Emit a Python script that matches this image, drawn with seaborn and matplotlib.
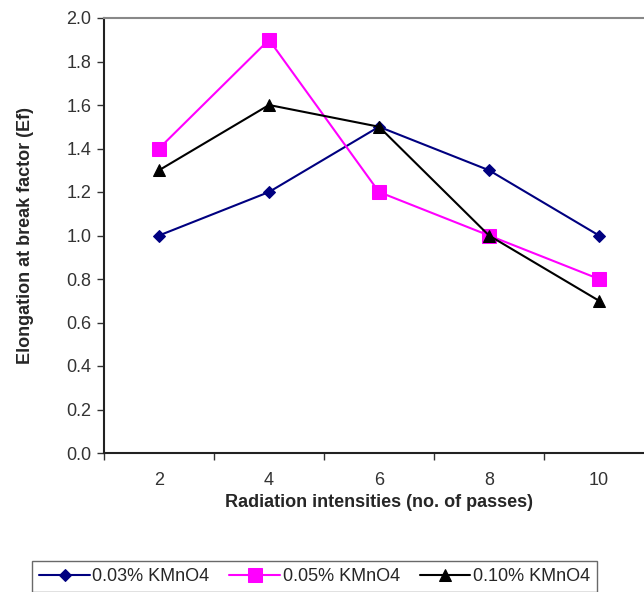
import matplotlib
matplotlib.use("Agg")
import matplotlib.pyplot as plt
import seaborn as sns
import pandas as pd

# data
passes = ["2", "4", "6", "8", "10"]
kmno4_003 = [1.0, 1.2, 1.5, 1.3, 1.0]
kmno4_005 = [1.4, 1.9, 1.2, 1.0, 0.8]
kmno4_010 = [1.3, 1.6, 1.5, 1.0, 0.7]
series_names = ["0.03% KMnO4", "0.05% KMnO4", "0.10% KMnO4"]

sns.set_style("white")
plt.rcParams['font.family'] = ['Liberation Sans', 'DejaVu Sans']

df = pd.DataFrame({
    "pos": list(range(len(passes))) * 3,
    "ef": kmno4_003 + kmno4_005 + kmno4_010,
    "series": [s for s in series_names for _ in passes],
})

fig = plt.figure(figsize=(6.44, 5.92), dpi=100)
ax = fig.add_axes([104 / 644, 139 / 592, 550 / 644, 435 / 592])

styles = {
    "0.03% KMnO4": dict(color="#000080", marker="D", markersize=6.5),
    "0.05% KMnO4": dict(color="#FF00FF", marker="s", markersize=9.5),
    "0.10% KMnO4": dict(color="#000000", marker="^", markersize=9),
}
for name in series_names:
    st = styles[name]
    sns.lineplot(data=df[df["series"] == name], x="pos", y="ef", ax=ax,
                 color=st["color"], marker=st["marker"], markersize=st["markersize"],
                 markeredgecolor=st["color"], linewidth=1.5, label=name, legend=False)

ax.set_xlim(-0.5, 4.5)
ax.set_ylim(0, 2.0)
ax.set_yticks([0.0, 0.2, 0.4, 0.6, 0.8, 1.0, 1.2, 1.4, 1.6, 1.8, 2.0])
ax.set_yticklabels([f"{v:.1f}" for v in ax.get_yticks()])
ax.set_xticks([-0.5, 0.5, 1.5, 2.5, 3.5, 4.5])
ax.set_xticklabels([])
ax.set_xticks(range(len(passes)), minor=True)
ax.set_xticklabels(passes, minor=True)
ax.tick_params(axis="x", which="major", direction="out", length=5, width=1, color="#333333", bottom=True)
ax.tick_params(axis="x", which="minor", length=0, pad=14, labelsize=13, labelcolor="#333333")
ax.tick_params(axis="y", direction="out", length=5, width=1, color="#333333", left=True,
               labelsize=13, labelcolor="#333333", pad=4)

ax.set_xlabel("Radiation intensities (no. of passes)", fontsize=13, fontweight="bold", labelpad=3)
ax.set_ylabel("Elongation at break factor (Ef)", fontsize=13, fontweight="bold", labelpad=23)

for side in ["left", "bottom"]:
    ax.spines[side].set_color("#222222")
    ax.spines[side].set_linewidth(1.5)
ax.spines["top"].set_color("#888888")
ax.spines["top"].set_linewidth(1.5)
ax.spines["right"].set_visible(False)

handles, labels = ax.get_legend_handles_labels()
leg = fig.legend(handles, labels, loc="upper left", bbox_to_anchor=(32 / 644, 31 / 592),
                 ncol=3, frameon=True, fancybox=False, fontsize=13, handlelength=2.8,
                 handletextpad=0.15, columnspacing=1.1, borderpad=0.4, borderaxespad=0)
leg.get_frame().set_edgecolor("#444444")
leg.get_frame().set_linewidth(1.0)

fig.savefig("out.png", dpi=100)
